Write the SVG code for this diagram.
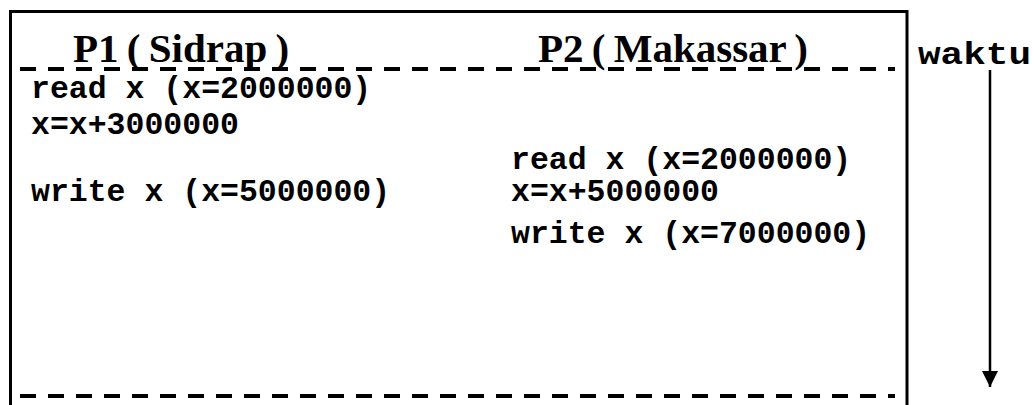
<svg xmlns="http://www.w3.org/2000/svg" width="1034" height="405" viewBox="0 0 1034 405">
  <style>
    .frame { fill: none; stroke: #000; stroke-width: 3; }
    .dash { stroke: #000; stroke-width: 4; stroke-dasharray: 16 12; }
    .head { font-family: "Liberation Serif", "Times New Roman", serif; font-weight: bold; font-size: 41px; word-spacing: -2px; fill: #000; }
    .code { font-family: "Liberation Mono", "Courier New", monospace; font-weight: bold; font-size: 31.5px; fill: #000; }
  </style>
  <defs>
    <marker id="arrowhead" viewBox="0 0 16 16" refX="16" refY="8" markerWidth="16" markerHeight="16" markerUnits="userSpaceOnUse" orient="auto">
      <path d="M0,0 L16,8 L0,16 Z" fill="#000"/>
    </marker>
  </defs>
  <rect width="1034" height="405" fill="#fff"/>

  <!-- outer frame: open at the bottom -->
  <g id="frame">
    <path class="frame" d="M10.5,405 L10.5,11.5 L907,11.5 L907,405"/>
    <line class="dash" x1="20" y1="69" x2="895" y2="69"/>
    <line class="dash" x1="20" y1="396" x2="895" y2="396"/>
  </g>

  <!-- process P1 -->
  <g id="p1">
    <text class="head" x="73" y="62">P1 ( Sidrap )</text>
    <text class="code" x="31" y="98">read x (x=2000000)</text>
    <text class="code" x="31" y="134">x=x+3000000</text>
    <text class="code" x="31" y="201">write x (x=5000000)</text>
  </g>

  <!-- process P2 -->
  <g id="p2">
    <text class="head" x="538" y="62">P2 ( Makassar )</text>
    <text class="code" x="511" y="169">read x (x=2000000)</text>
    <text class="code" x="511" y="201">x=x+5000000</text>
    <text class="code" x="511" y="243">write x (x=7000000)</text>
  </g>

  <!-- time axis -->
  <g id="time">
    <text class="code" x="918" y="64" textLength="113" lengthAdjust="spacingAndGlyphs">waktu</text>
  </g>
  <g id="connectors">
    <line x1="990" y1="70" x2="990" y2="387" stroke="#000" stroke-width="2.5" marker-end="url(#arrowhead)"/>
  </g>
</svg>
